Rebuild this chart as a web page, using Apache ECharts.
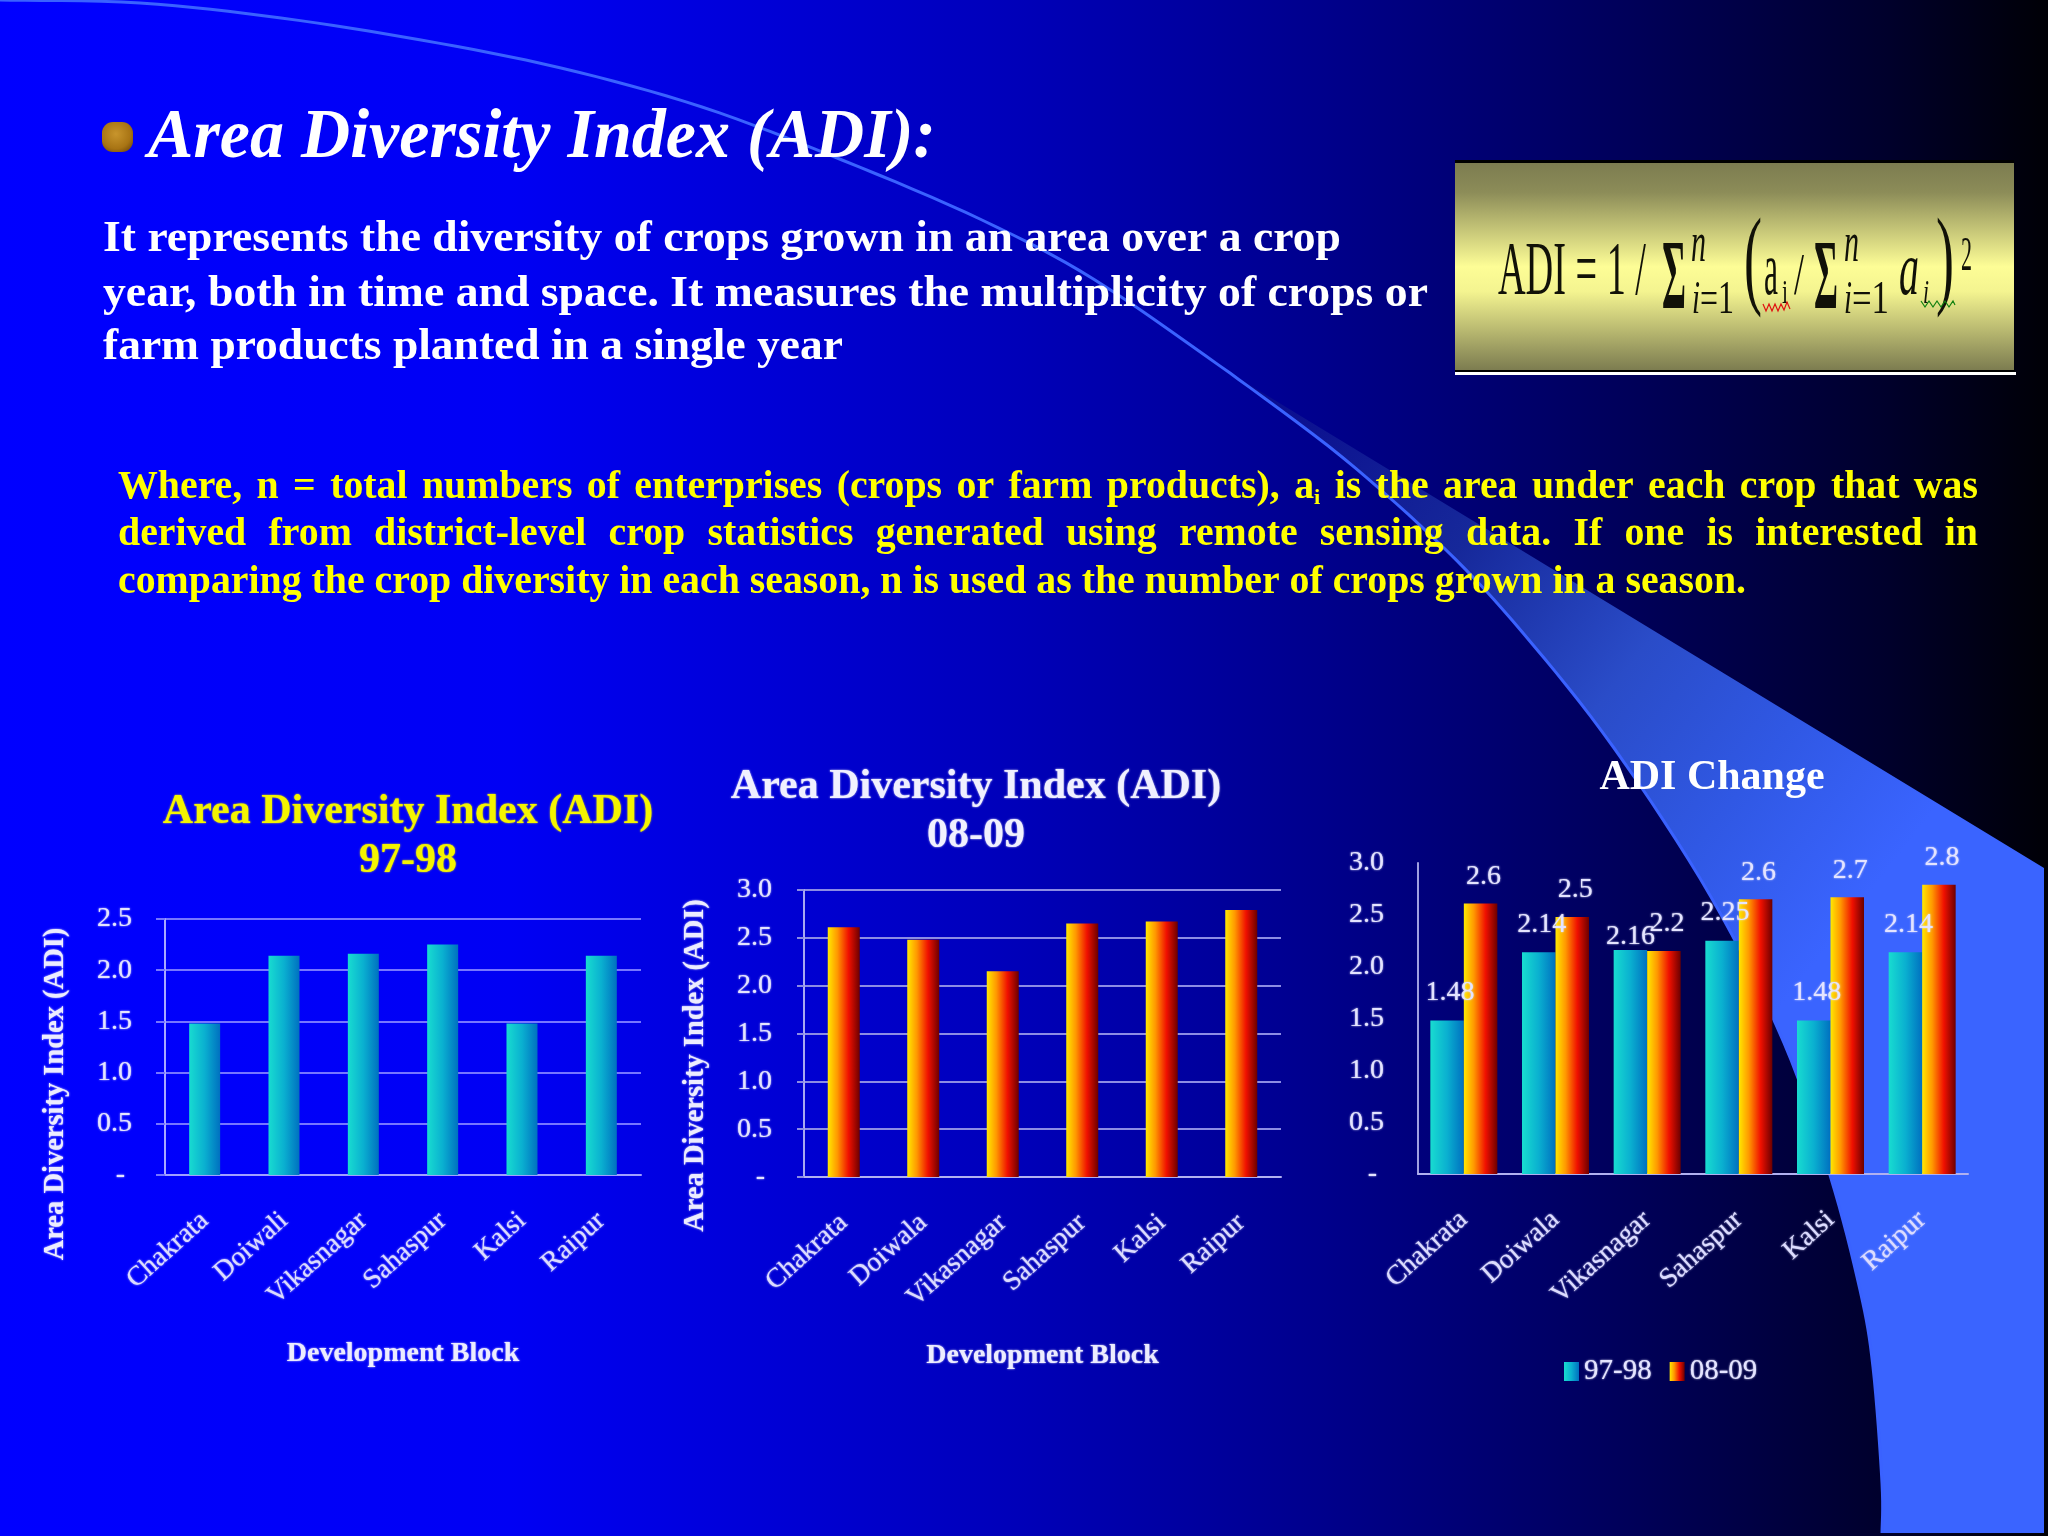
<!DOCTYPE html>
<html><head><meta charset="utf-8">
<style>html,body{margin:0;padding:0;background:#000}#c{width:2048px;height:1536px}</style>
<script src="https://cdn.jsdelivr.net/npm/echarts@6/dist/echarts.min.js"></script>
</head><body><div id="c"></div>
<script>
const categories1 = ['Chakrata','Doiwali','Vikasnagar','Sahaspur','Kalsi','Raipur'];
const categories2 = ['Chakrata','Doiwala','Vikasnagar','Sahaspur','Kalsi','Raipur'];
const adi9798 = [1.48,2.14,2.16,2.25,1.48,2.14];
const adi0809 = [2.61,2.48,2.15,2.65,2.67,2.79];
const labels9798 = ['1.48','2.14','2.16','2.25','1.48','2.14'];
const labels0809 = ['2.6','2.5','2.2','2.6','2.7','2.8'];
const titleMain = 'Area Diversity Index (ADI):';
const bodyLines = ['It represents the diversity of crops grown in an area over a crop',
 'year, both in time and space. It measures the multiplicity of crops or',
 'farm products planted in a single year'];
const whereLines = ['Where, n = total numbers of enterprises (crops or farm products), a_i is the area under each crop that was',
 'derived from district-level crop statistics generated using remote sensing data. If one is interested in',
 'comparing the crop diversity in each season, n is used as the number of crops grown in a season.'];

const SERIF = '"Liberation Serif","Times New Roman",serif';
const ctx = document.createElement('canvas').getContext('2d');
function mw(t,size,w,st){ctx.font=(st||'')+' '+(w||'')+' '+size+'px '+SERIF;return ctx.measureText(t).width;}
const els = [];
function T(text,x,base,size,o){o=o||{};
  const w=o.weight||'normal',st=o.style||'normal';
  let sx=o.scaleX||1;
  if(o.width) sx=o.width/mw(text,size,w,st);
  els.push({type:'text',x:x,y:base-0.25*size,scaleX:sx,z:o.z||10,silent:true,
    style:{text:text,fontFamily:SERIF,fontSize:size,fontWeight:w,fontStyle:st,fill:o.fill||'#fff',
      align:'left',verticalAlign:'middle',textShadowBlur:o.blur||0,textShadowColor:o.fill||'#fff'}});
}
function catmull(p,n){const r=[];
  for(let i=0;i<p.length-1;i++){const a=p[Math.max(i-1,0)],b=p[i],c=p[i+1],d=p[Math.min(i+2,p.length-1)];
    for(let k=0;k<n;k++){const t=k/n,t2=t*t,t3=t2*t;
      r.push([0,1].map(j=>0.5*(2*b[j]+(c[j]-a[j])*t+(2*a[j]-5*b[j]+4*c[j]-d[j])*t2+(3*b[j]-a[j]-3*c[j]+d[j])*t3)));}}
  r.push(p[p.length-1]);return r;}

// ---- decorative swoosh
const swooshThin = catmull([[0,0],[140,3],[281,18],[421,40],[561,68],[702,107],[842,160],[982,220],[1095,280],[1230,373]],8);
const swooshLow = catmull([[1230,373],[1342,457],[1445,549],[1523,633],[1614,748],[1711,897],[1784,1043],[1830,1175],[1860,1290],[1873,1367],[1882,1483],[1882,1533]],8);
els.push({type:'polygon',z:0,silent:true,shape:{points:swooshLow.concat([[2044,1533],[2044,868]])},
  style:{fill:new echarts.graphic.LinearGradient(1230,373,1880,880,[{offset:0,color:'#08088c'},{offset:.35,color:'#16289a'},{offset:.6,color:'#2a4cc8'},{offset:.8,color:'#3058e4'},{offset:1,color:'#3a64ff'}],true)}});
els.push({type:'polyline',z:1,silent:true,shape:{points:swooshThin.concat(swooshLow)},style:{stroke:'#3a62ff',lineWidth:3,fill:null}});

// ---- heading + text
els.push({type:'rect',z:10,silent:true,shape:{x:102,y:122,width:31,height:30,r:11},
  style:{fill:new echarts.graphic.RadialGradient(.45,.4,.7,[{offset:0,color:'#c8952c'},{offset:.7,color:'#a87414'},{offset:1,color:'#7a4f0c'}])}});
T(titleMain,148,156,70,{weight:'bold',style:'italic',width:788});
const bodyBase=[251,306,359], bodyW=[1238,1325,740];
bodyLines.forEach((l,i)=>T(l,103,bodyBase[i],45,{weight:'bold',width:bodyW[i]}));

const whereBase=[498,545,593], YEL='#ffff00', ws=39, whereScale=1628/mw(whereLines[2],ws,'bold');
whereLines.forEach((l,i)=>{
  if(i===2){T(l,118,whereBase[i],ws,{weight:'bold',fill:YEL,scaleX:whereScale});return;}
  const words=l.split(' ');
  const wd=words.map(w=>w==='a_i'?(mw('a',ws,'bold')+mw('i',22,'bold'))*whereScale:mw(w,ws,'bold')*whereScale);
  const gap=(1978-118-wd.reduce((a,b)=>a+b,0))/(words.length-1);
  let x=118;
  words.forEach((w,k)=>{
    if(w==='a_i'){T('a',x,whereBase[i],ws,{weight:'bold',fill:YEL,scaleX:whereScale});
      T('i',x+mw('a',ws,'bold')*whereScale,whereBase[i]+6,22,{weight:'bold',fill:YEL,scaleX:whereScale});}
    else T(w,x,whereBase[i],ws,{weight:'bold',fill:YEL,scaleX:whereScale});
    x+=wd[k]+gap;});
});

// ---- formula box
els.push({type:'rect',z:5,silent:true,shape:{x:1455,y:163,width:559,height:207},
  style:{fill:new echarts.graphic.LinearGradient(0,0,0,1,[{offset:0,color:'#7c7c50'},{offset:.14,color:'#8c8c58'},{offset:.5,color:'#fdfd96'},{offset:.62,color:'#f4f490'},{offset:1,color:'#7c7c50'}])}});
els.push({type:'rect',z:5,silent:true,shape:{x:1455,y:160,width:559,height:3},style:{fill:'#000'}});
els.push({type:'rect',z:5,silent:true,shape:{x:1455,y:370,width:560,height:2},style:{fill:'#000'}});
els.push({type:'rect',z:5,silent:true,shape:{x:1455,y:372,width:561,height:3},style:{fill:'#fff'}});
const INK='#111108';
T('ADI = 1 /',1498,293,77,{fill:INK,width:148});
T('\u03A3',1662,307,100,{fill:INK,weight:'bold',width:24});
T('n',1691,260,58,{fill:INK,style:'italic',width:15});
T('i',1692,312,46,{fill:INK,style:'italic',width:8});
T('=1',1700,312,46,{fill:INK,width:34});
T('(',1744,293,110,{fill:INK,width:18});
T('a',1764,293,76,{fill:INK,width:14});
T('i',1782,303,34,{fill:INK,width:6});
T('/',1794,293,60,{fill:INK,width:10});
T('\u03A3',1814,307,100,{fill:INK,weight:'bold',width:24});
T('n',1844,260,58,{fill:INK,style:'italic',width:15});
T('i',1844,312,46,{fill:INK,style:'italic',width:8});
T('=1',1852,312,46,{fill:INK,width:37});
T('a',1899,293,76,{fill:INK,style:'italic',width:20});
T('i',1923,303,34,{fill:INK,style:'italic',width:6});
T(')',1936,293,110,{fill:INK,width:18});
T('2',1961,269,48,{fill:INK,width:11});
const redSquig=[[1763,304],[1766,311],[1769,304],[1772,311],[1775,304],[1778,311],[1781,304],[1784,310],[1787,302],[1790,309]];
const greenSquig=[[1921,301],[1925,307],[1929,301],[1933,307],[1937,301],[1941,307],[1945,301],[1949,307],[1953,301],[1955,305]];
els.push({type:'polyline',z:11,silent:true,shape:{points:redSquig},style:{stroke:'#e01010',lineWidth:1.2,fill:null}});
els.push({type:'polyline',z:11,silent:true,shape:{points:greenSquig},style:{stroke:'#108010',lineWidth:1.2,fill:null}});

// ---- chart styling
const cyan={type:'linear',x:0,y:0,x2:1,y2:0,colorStops:[{offset:0,color:'#18dcd0'},{offset:.5,color:'#0ab0d0'},{offset:1,color:'#0070c0'}]};
const fire={type:'linear',x:0,y:0,x2:1,y2:0,colorStops:[{offset:0,color:'#ffe800'},{offset:.3,color:'#ff9800'},{offset:.65,color:'#f01000'},{offset:1,color:'#6c0000'}]};
const soft=(c,s,w)=>({color:c,fontFamily:SERIF,fontSize:s,fontWeight:w||'normal',textShadowBlur:2,textShadowColor:c});
const TXT='#e4e4ff';
function yAxis(idx,max,o){return Object.assign({type:'value',gridIndex:idx,min:0,max:max,interval:.5,z:1,
  axisLine:{show:true,lineStyle:{color:o.axis,width:2}},
  axisTick:{show:o.grid!==null,length:o.tick,lineStyle:{color:o.grid||'#fff',width:2}},
  splitLine:{show:o.grid!==null,lineStyle:{color:o.grid||'#fff',width:2}},
  axisLabel:Object.assign(soft(TXT,28),{margin:o.margin,padding:[4,0,0,0],formatter:v=>v===0?'- ':v.toFixed(1)})},o.name||{});}
function xAxis(idx,cats,o){return Object.assign({type:'category',gridIndex:idx,data:cats,z:1,
  axisLine:{show:true,lineStyle:{color:o.axis,width:2}},axisTick:{show:false},
  axisLabel:Object.assign(soft('#dcdcff',27.5),{rotate:42,margin:o.margin,interval:0,padding:[0,0,0,0]})},o.name||{});}
const devBlock=gap=>({name:'Development Block',nameLocation:'middle',nameGap:gap,nameTextStyle:soft('#ececff',28,'bold')});
const adiName=(gap,pad)=>({name:'Area Diversity Index (ADI)',nameLocation:'middle',nameGap:gap,nameRotate:90,
  nameTextStyle:Object.assign(soft('#ececff',28.5,'bold'),{padding:[0,pad,0,0]})});
const ttl=(text,x,top,c,lh,blur)=>({text:text,left:x,top:top,textAlign:'center',padding:0,
  textStyle:{color:c,fontFamily:SERIF,fontSize:42,fontWeight:'bold',lineHeight:lh,textShadowBlur:blur,textShadowColor:c}});

const option={
  animation:false,
  backgroundColor:{type:'linear',x:0,y:0,x2:1,y2:0,colorStops:[
    {offset:0,color:'#0000ff'},{offset:.25,color:'#0000f4'},{offset:.35,color:'#0000dc'},{offset:.5,color:'#0000b8'},
    {offset:.645,color:'#00008c'},{offset:.8,color:'#000058'},{offset:.92,color:'#00002c'},{offset:1,color:'#000006'}]},
  title:[
    ttl('Area Diversity Index (ADI)\n97-98',408,788,'#f4f400',49,2),
    ttl('Area Diversity Index (ADI)\n08-09',976,763,'#f0f0ff',49,2),
    ttl('ADI Change',1712,753,'#ffffff',50,0)],
  legend:{left:1559,top:1352,selectedMode:false,itemWidth:15,itemHeight:19,itemGap:18,icon:'rect',
    data:['97-98','08-09'],textStyle:Object.assign(soft(TXT,29),{padding:[0,0,0,0]})},
  grid:[
    {left:165,top:919,width:476,height:256},
    {left:804,top:890,width:477,height:287},
    {left:1418,top:863,width:550,height:311}],
  xAxis:[
    xAxis(0,categories1,{axis:'#a0a0ff',margin:42,name:devBlock(165)}),
    xAxis(1,categories2,{axis:'#b0b0f0',margin:42,name:devBlock(165)}),
    xAxis(2,categories2,{axis:'#b0b0f0',margin:42})],
  yAxis:[
    yAxis(0,2.5,{axis:'#a8a8ff',grid:'#7676ff',tick:9,margin:33,name:adiName(95,94)}),
    yAxis(1,3,{axis:'#a8a8f0',grid:'#8c8ce4',tick:7,margin:32,name:adiName(94,64)}),
    yAxis(2,3,{axis:'#a0a0e0',grid:null,tick:0,margin:34})],
  series:[
    {type:'bar',name:'97-98 block',xAxisIndex:0,yAxisIndex:0,data:adi9798,barWidth:31,itemStyle:{color:cyan}},
    {type:'bar',name:'08-09 block',xAxisIndex:1,yAxisIndex:1,data:adi0809,barWidth:32,itemStyle:{color:fire}},
    {type:'bar',name:'97-98',xAxisIndex:2,yAxisIndex:2,barWidth:33.5,barGap:0,itemStyle:{color:cyan},
      data:adi9798.map((v,i)=>i===2?{value:v,label:{offset:[0,15]}}:v),
      label:Object.assign(soft(TXT,28),{show:true,position:'top',distance:14,offset:[3,0],formatter:p=>labels9798[p.dataIndex]})},
    {type:'bar',name:'08-09',xAxisIndex:2,yAxisIndex:2,data:adi0809,barWidth:33.5,barGap:0,itemStyle:{color:fire},
      label:Object.assign(soft(TXT,28),{show:true,position:'top',distance:13,offset:[3,0],formatter:p=>labels0809[p.dataIndex]})}],
  graphic:{elements:els}
};
echarts.init(document.getElementById('c'),null,{renderer:'canvas',devicePixelRatio:1}).setOption(option);
</script></body></html>
